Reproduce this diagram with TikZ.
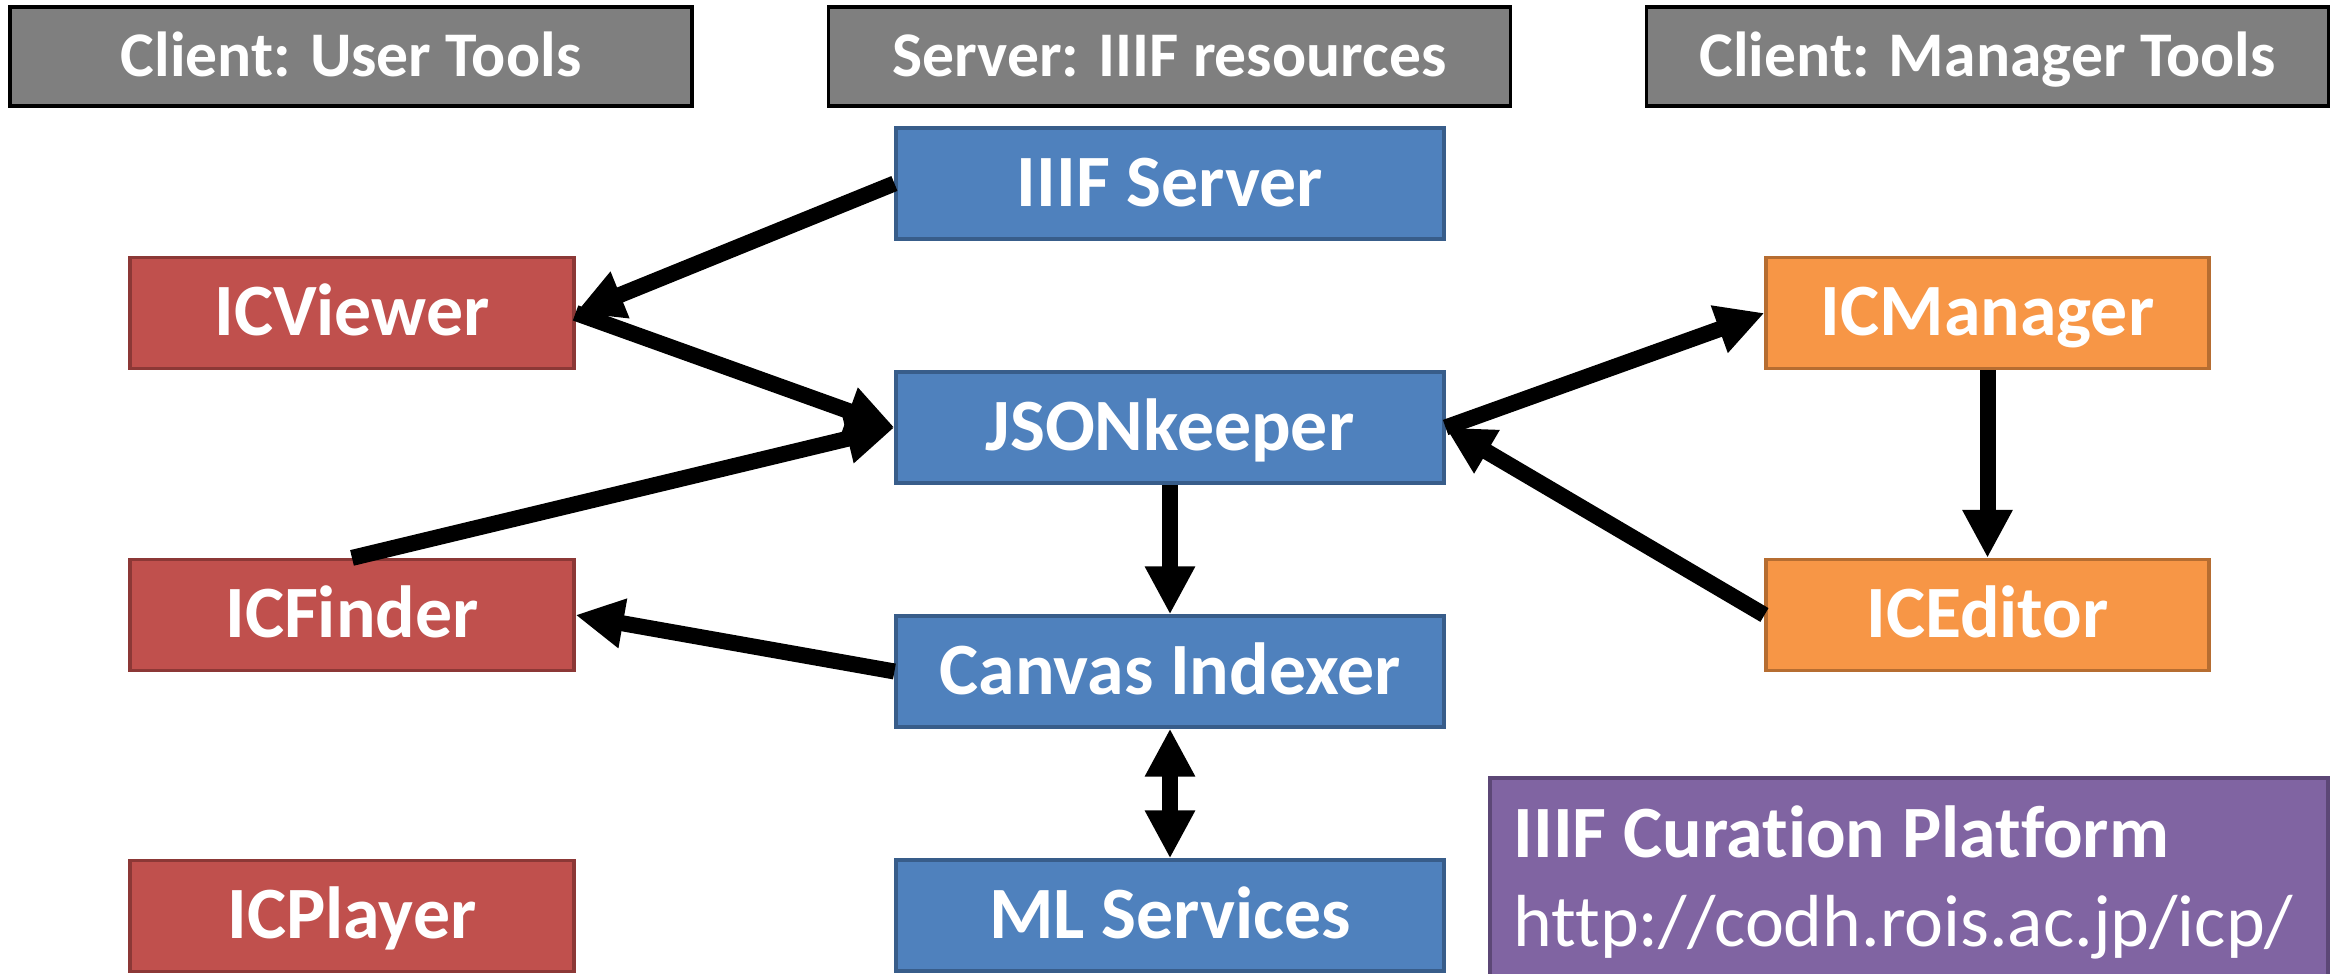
\documentclass[tikz,border=0pt]{standalone}
\usepackage{fontspec}
\setmainfont{Carlito}[Ligatures=NoCommon]
\usepackage{tikz}
\usetikzlibrary{arrows.meta, positioning}
\definecolor{hdrgray}{HTML}{7F7F7F}
\definecolor{toolred}{HTML}{C0504D}
\definecolor{toolredline}{HTML}{8C3836}
\definecolor{srvblue}{HTML}{4F81BD}
\definecolor{srvblueline}{HTML}{385D8A}
\definecolor{mgrorange}{HTML}{F79646}
\definecolor{mgrorangeline}{HTML}{B66D31}
\definecolor{icppurple}{HTML}{8064A2}
\definecolor{icppurpleline}{HTML}{5C4776}

\begin{document}
\begin{tikzpicture}[
    hdr/.style={draw=black, line width=0.9pt, fill=hdrgray, text=white, inner sep=0pt,
        minimum width=6.82cm, minimum height=0.99cm, text height=0.41cm, text depth=0pt,
        font=\fontsize{18.1}{22}\selectfont\bfseries},
    box/.style={line width=0.9pt, text=white, inner sep=0pt, minimum height=1.11cm,
        text height=0.46cm, text depth=0pt, font=\fontsize{21}{24}\selectfont\bfseries},
    usertool/.style={box, draw=toolredline, fill=toolred, minimum width=4.44cm},
    resource/.style={box, draw=srvblueline, fill=srvblue, minimum width=5.48cm},
    mgrtool/.style={box, draw=mgrorangeline, fill=mgrorange, minimum width=4.43cm},
    tip/.tip={Triangle[length=0.48cm, width=0.47cm]},
    flow/.style={line width=0.16cm, -tip}
  ]
		\useasboundingbox (0,0) rectangle (23.46,-9.74);
		\draw (3.51,-0.565) node[hdr] (huser) {Client: User Tools}
		(11.695,-0.565) node[hdr] (hserver) {Server: IIIF resources}
		(19.875,-0.565) node[hdr] (hmgr) {Client: Manager Tools}
		(11.70,-1.835) node[resource] (iiif) {IIIF Server}
		(11.70,-4.275) node[resource] (json) {JSONkeeper}
		(11.70,-6.715) node[resource] (canvas) {Canvas Indexer}
		(11.70,-9.155) node[resource] (ml) {ML Services}
		(3.52,-3.13) node[usertool] (viewer) {ICViewer}
		(3.52,-6.15) node[usertool] (finder) {ICFinder}
		(3.52,-9.16) node[usertool] (player) {ICPlayer}
		(19.875,-3.13) node[mgrtool] (manager) {ICManager}
		(19.875,-6.15) node[mgrtool] (editor) {ICEditor};

		\draw[line width=0.9pt, draw=icppurpleline, fill=icppurple] (14.90,-7.78) rectangle (23.28,-9.85);
		\node[anchor=base west, inner sep=0pt, text=white, font=\fontsize{21}{25}\selectfont\bfseries] (icptitle) at (15.13,-8.58) {IIIF Curation Platform};
		\node[anchor=base west, inner sep=0pt, text=white, font=\fontsize{21}{25}\selectfont] (icpurl) at (15.13,-9.47) {http://codh.rois.ac.jp/icp/};

		\draw[flow] (iiif.west) -- (viewer.east);
		\draw[flow] (viewer.east) -- (json.west);
		\draw[flow] (finder.north) -- (json.west);
		\draw[flow] (json.south) -- (canvas.north);
		\draw[flow] (canvas.west) -- (finder.east);
		\draw[flow, tip-tip] (canvas.south) -- (ml.north);
		\draw[flow] (json.east) -- (manager.west);
		\draw[flow] (editor.west) -- (json.east);
		\draw[flow] (manager.south) -- (editor.north);
	\end{tikzpicture}
\end{document}
